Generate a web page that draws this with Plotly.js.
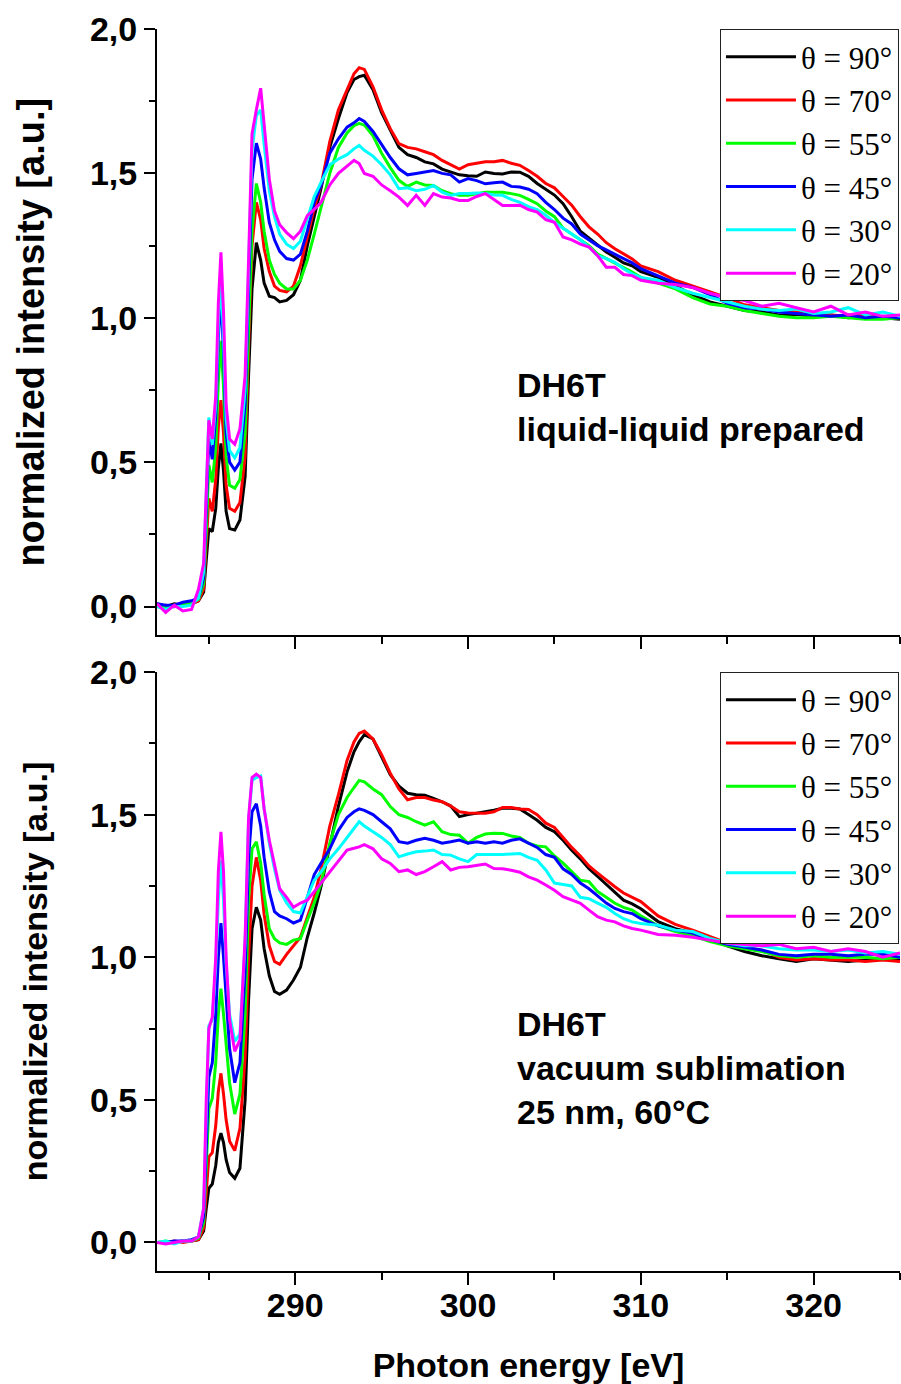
<!DOCTYPE html>
<html>
<head>
<meta charset="utf-8">
<script src="https://cdn.plot.ly/plotly-3.0.1.min.js"></script>
<style>html,body{margin:0;padding:0;background:#fff;}#chart{width:901px;height:1384px;}</style>
</head>
<body>
<div id="chart"></div>
<script>
// Photon energy grid [eV]
const energy = [
 282.0, 282.5, 283.0, 283.5, 284.0, 284.4, 284.7, 284.85, 285.0, 285.2,
 285.4, 285.55, 285.7, 285.85, 286.0, 286.2, 286.5, 286.8, 287.1, 287.3,
 287.5, 287.75, 288.0, 288.2, 288.5, 288.8, 289.1, 289.5, 289.9, 290.3,
 290.7, 291.1, 291.5, 292.0, 292.5, 293.0, 293.4, 293.7, 294.0, 294.5,
 295.0, 295.5, 296.0, 296.5, 297.0, 297.5, 298.0, 298.5, 299.0, 299.5,
 300.0, 300.5, 301.0, 301.5, 302.0, 302.5, 303.0, 303.5, 304.0, 304.5,
 305.0, 305.5, 306.0, 306.5, 307.0, 307.5, 308.0, 308.5, 309.0, 309.5,
 310.0, 311.0, 312.0, 313.0, 314.0, 315.0, 316.0, 317.0, 318.0, 319.0,
 320.0, 321.0, 322.0, 323.0, 324.0, 325.0];

const seriesNames = ['θ = 90°', 'θ = 70°', 'θ = 55°', 'θ = 45°', 'θ = 30°', 'θ = 20°'];
const seriesColors = ['#000000', '#ff0000', '#00ff00', '#0000ff', '#00ffff', '#ff00ff'];

// Top panel: DH6T liquid-liquid prepared
const top90 = [
 0.01, 0.0, 0.01, 0.005, 0.01, 0.02, 0.05, 0.15, 0.27, 0.26,
 0.34, 0.48, 0.565, 0.47, 0.33, 0.27, 0.265, 0.30, 0.45, 0.80,
 1.10, 1.26, 1.20, 1.12, 1.075, 1.07, 1.055, 1.06, 1.08, 1.13,
 1.25, 1.35, 1.45, 1.59, 1.69, 1.78, 1.825, 1.835, 1.84, 1.79,
 1.71, 1.65, 1.59, 1.565, 1.555, 1.54, 1.533, 1.515, 1.505, 1.495,
 1.492, 1.49, 1.505, 1.50, 1.498, 1.505, 1.504, 1.49, 1.465, 1.445,
 1.425, 1.395, 1.35, 1.30, 1.275, 1.25, 1.228, 1.21, 1.19, 1.18,
 1.16, 1.14, 1.11, 1.08, 1.055, 1.04, 1.025, 1.02, 1.01, 1.012,
 1.005, 1.01, 1.0, 1.005, 1.0, 0.995];
const top70 = [
 0.0, 0.005, 0.0, 0.01, 0.01, 0.02, 0.06, 0.20, 0.375, 0.33,
 0.44, 0.62, 0.715, 0.60, 0.42, 0.34, 0.33, 0.36, 0.52, 0.90,
 1.25, 1.40, 1.34, 1.24, 1.16, 1.11, 1.095, 1.09, 1.11, 1.18,
 1.28, 1.38, 1.46, 1.61, 1.72, 1.79, 1.845, 1.866, 1.86, 1.80,
 1.72, 1.655, 1.603, 1.59, 1.585, 1.575, 1.565, 1.545, 1.53, 1.515,
 1.53, 1.535, 1.54, 1.54, 1.545, 1.535, 1.528, 1.51, 1.49, 1.465,
 1.45, 1.42, 1.39, 1.35, 1.315, 1.29, 1.26, 1.239, 1.22, 1.204,
 1.18, 1.16, 1.13, 1.11, 1.09, 1.07, 1.045, 1.035, 1.025, 1.02,
 1.01, 1.01, 1.005, 1.01, 1.0, 1.0];
const top55 = [
 0.0, 0.0, 0.005, 0.01, 0.015, 0.025, 0.08, 0.26, 0.49, 0.43,
 0.55, 0.78, 0.92, 0.76, 0.52, 0.42, 0.41, 0.44, 0.60, 0.95,
 1.30, 1.465, 1.40, 1.30, 1.20, 1.15, 1.12, 1.10, 1.10, 1.13,
 1.20, 1.29, 1.38, 1.50, 1.59, 1.64, 1.665, 1.673, 1.667, 1.63,
 1.57, 1.52, 1.476, 1.455, 1.47, 1.46, 1.458, 1.44, 1.43, 1.424,
 1.424, 1.43, 1.435, 1.435, 1.435, 1.43, 1.424, 1.41, 1.395, 1.37,
 1.35, 1.31, 1.29, 1.27, 1.25, 1.221, 1.205, 1.19, 1.175, 1.158,
 1.14, 1.12, 1.10, 1.07, 1.048, 1.04, 1.025, 1.015, 1.005, 1.0,
 1.0, 1.005, 1.0, 0.995, 0.995, 1.0];
const top45 = [
 0.01, 0.005, 0.005, 0.015, 0.02, 0.03, 0.10, 0.32, 0.58, 0.51,
 0.66, 0.93, 1.08, 0.88, 0.60, 0.50, 0.473, 0.50, 0.70, 1.10,
 1.48, 1.605, 1.55, 1.45, 1.33, 1.27, 1.23, 1.205, 1.20, 1.22,
 1.30, 1.40, 1.46, 1.57, 1.62, 1.66, 1.675, 1.69, 1.68, 1.645,
 1.60, 1.555, 1.516, 1.495, 1.50, 1.505, 1.51, 1.50, 1.495, 1.47,
 1.482, 1.475, 1.464, 1.468, 1.47, 1.455, 1.453, 1.445, 1.43, 1.40,
 1.375, 1.345, 1.325, 1.29, 1.27, 1.25, 1.235, 1.221, 1.205, 1.19,
 1.17, 1.145, 1.12, 1.105, 1.08, 1.05, 1.035, 1.03, 1.02, 1.015,
 1.01, 1.005, 1.01, 1.0, 1.005, 1.0];
const top30 = [
 0.0, -0.01, 0.0, 0.0, 0.005, 0.03, 0.12, 0.40, 0.655, 0.56,
 0.70, 0.98, 1.14, 0.93, 0.65, 0.54, 0.515, 0.55, 0.75, 1.17,
 1.58, 1.70, 1.72, 1.60, 1.44, 1.35, 1.29, 1.255, 1.24, 1.265,
 1.34, 1.42, 1.47, 1.53, 1.55, 1.565, 1.585, 1.597, 1.58, 1.56,
 1.53, 1.495, 1.447, 1.45, 1.44, 1.445, 1.458, 1.435, 1.424, 1.43,
 1.43, 1.432, 1.43, 1.425, 1.424, 1.41, 1.40, 1.385, 1.375, 1.355,
 1.33, 1.31, 1.29, 1.27, 1.245, 1.215, 1.205, 1.192, 1.17, 1.152,
 1.14, 1.13, 1.105, 1.085, 1.07, 1.055, 1.04, 1.03, 1.025, 1.03,
 1.015, 1.02, 1.035, 1.01, 1.02, 1.005];
const top20 = [
 0.01, -0.02, 0.005, -0.015, -0.01, 0.06, 0.15, 0.40, 0.645, 0.58,
 0.73, 1.05, 1.227, 1.02, 0.70, 0.58, 0.562, 0.615, 0.80, 1.20,
 1.637, 1.72, 1.795, 1.67, 1.48, 1.37, 1.322, 1.295, 1.274, 1.30,
 1.354, 1.375, 1.40, 1.46, 1.50, 1.525, 1.545, 1.534, 1.50, 1.49,
 1.46, 1.44, 1.418, 1.389, 1.424, 1.389, 1.43, 1.418, 1.415, 1.406,
 1.406, 1.42, 1.43, 1.41, 1.389, 1.389, 1.39, 1.375, 1.366, 1.34,
 1.331, 1.28, 1.27, 1.255, 1.245, 1.215, 1.175, 1.175, 1.15, 1.146,
 1.13, 1.12, 1.115, 1.105, 1.085, 1.07, 1.06, 1.04, 1.05, 1.035,
 1.02, 1.04, 1.01, 1.02, 1.005, 1.01];

// Bottom panel: DH6T vacuum sublimation 25 nm, 60 °C
const bot90 = [
 0.0, 0.0, 0.0, 0.005, 0.005, 0.01, 0.04, 0.12, 0.19, 0.205,
 0.27, 0.35, 0.383, 0.35, 0.29, 0.245, 0.225, 0.26, 0.50, 0.85,
 1.10, 1.175, 1.13, 1.03, 0.935, 0.88, 0.87, 0.885, 0.92, 0.965,
 1.07, 1.155, 1.25, 1.39, 1.53, 1.65, 1.72, 1.755, 1.78, 1.765,
 1.70, 1.64, 1.60, 1.575, 1.57, 1.568, 1.557, 1.545, 1.53, 1.493,
 1.50, 1.504, 1.51, 1.515, 1.522, 1.522, 1.52, 1.50, 1.48, 1.455,
 1.44, 1.41, 1.375, 1.345, 1.31, 1.283, 1.255, 1.228, 1.20, 1.187,
 1.17, 1.125, 1.10, 1.085, 1.062, 1.04, 1.02, 1.005, 0.995, 0.985,
 0.995, 0.99, 0.985, 0.99, 0.995, 0.99];
const bot70 = [
 0.0, 0.0, 0.005, 0.0, 0.005, 0.01, 0.05, 0.17, 0.30, 0.315,
 0.41, 0.53, 0.593, 0.52, 0.43, 0.355, 0.322, 0.40, 0.65, 1.00,
 1.25, 1.35, 1.27, 1.15, 1.04, 0.985, 0.975, 1.01, 1.04, 1.07,
 1.14, 1.21, 1.31, 1.46, 1.57, 1.69, 1.755, 1.785, 1.793, 1.765,
 1.71, 1.645, 1.59, 1.552, 1.56, 1.56, 1.551, 1.545, 1.53, 1.51,
 1.506, 1.505, 1.505, 1.51, 1.525, 1.525, 1.52, 1.518, 1.50, 1.47,
 1.455, 1.42, 1.385, 1.355, 1.32, 1.295, 1.27, 1.247, 1.225, 1.21,
 1.195, 1.145, 1.115, 1.095, 1.072, 1.05, 1.035, 1.025, 1.0, 0.99,
 0.995, 0.99, 0.99, 0.985, 0.99, 0.985];
const bot55 = [
 0.0, 0.005, 0.0, 0.005, 0.005, 0.015, 0.07, 0.28, 0.47, 0.505,
 0.63, 0.80, 0.89, 0.80, 0.69, 0.56, 0.45, 0.52, 0.80, 1.20,
 1.38, 1.405, 1.33, 1.22, 1.10, 1.065, 1.05, 1.045, 1.06, 1.065,
 1.13, 1.19, 1.26, 1.40, 1.50, 1.56, 1.595, 1.62, 1.615, 1.59,
 1.57, 1.528, 1.50, 1.49, 1.475, 1.463, 1.475, 1.44, 1.43, 1.428,
 1.40, 1.42, 1.432, 1.435, 1.434, 1.425, 1.42, 1.40, 1.39, 1.387,
 1.355, 1.33, 1.30, 1.27, 1.265, 1.23, 1.21, 1.189, 1.175, 1.165,
 1.145, 1.11, 1.09, 1.075, 1.055, 1.04, 1.03, 1.02, 1.005, 1.0,
 1.005, 1.0, 1.0, 1.0, 0.995, 1.0];
const bot45 = [
 0.0, 0.0, 0.005, 0.005, 0.01, 0.02, 0.09, 0.35, 0.58, 0.63,
 0.80, 1.00, 1.12, 1.00, 0.85, 0.68, 0.56, 0.63, 0.95, 1.35,
 1.51, 1.538, 1.46, 1.35, 1.23, 1.16, 1.145, 1.135, 1.12, 1.13,
 1.21, 1.29, 1.33, 1.38, 1.445, 1.49, 1.51, 1.52, 1.515, 1.50,
 1.475, 1.45, 1.405, 1.40, 1.41, 1.417, 1.41, 1.40, 1.405, 1.411,
 1.40, 1.405, 1.40, 1.405, 1.40, 1.41, 1.415, 1.40, 1.385, 1.36,
 1.35, 1.31, 1.29, 1.26, 1.24, 1.215, 1.19, 1.171, 1.16, 1.153,
 1.135, 1.11, 1.095, 1.085, 1.062, 1.045, 1.035, 1.025, 1.01, 1.005,
 1.01, 1.01, 1.005, 1.01, 1.01, 1.0];
const bot30 = [
 0.0, 0.005, -0.005, 0.005, 0.005, 0.02, 0.12, 0.48, 0.76, 0.78,
 0.97, 1.20, 1.34, 1.20, 0.98, 0.80, 0.705, 0.73, 1.05, 1.48,
 1.62, 1.63, 1.635, 1.52, 1.40, 1.31, 1.235, 1.19, 1.16, 1.155,
 1.21, 1.27, 1.30, 1.345, 1.38, 1.42, 1.455, 1.475, 1.46, 1.44,
 1.42, 1.395, 1.352, 1.362, 1.37, 1.372, 1.376, 1.36, 1.358, 1.345,
 1.335, 1.36, 1.36, 1.358, 1.36, 1.362, 1.364, 1.35, 1.34, 1.306,
 1.26, 1.255, 1.25, 1.21, 1.205, 1.19, 1.175, 1.153, 1.135, 1.124,
 1.118, 1.112, 1.095, 1.09, 1.066, 1.05, 1.04, 1.04, 1.03, 1.025,
 1.025, 1.02, 1.025, 1.015, 1.02, 1.01];
const bot20 = [
 0.0, -0.005, 0.0, 0.005, 0.005, 0.02, 0.12, 0.50, 0.75, 0.79,
 1.00, 1.30, 1.44, 1.30, 1.00, 0.78, 0.67, 0.71, 1.07, 1.49,
 1.63, 1.642, 1.63, 1.52, 1.41, 1.32, 1.24, 1.21, 1.175, 1.19,
 1.20, 1.23, 1.26, 1.30, 1.335, 1.376, 1.382, 1.387, 1.395, 1.38,
 1.345, 1.329, 1.30, 1.306, 1.29, 1.30, 1.317, 1.335, 1.306, 1.315,
 1.317, 1.323, 1.327, 1.311, 1.31, 1.305, 1.298, 1.282, 1.27, 1.253,
 1.235, 1.212, 1.20, 1.189, 1.165, 1.142, 1.13, 1.124, 1.11, 1.101,
 1.095, 1.08, 1.077, 1.07, 1.06, 1.05, 1.045, 1.04, 1.045, 1.03,
 1.035, 1.02, 1.03, 1.02, 1.0, 1.015];

const topSeries = [top90, top70, top55, top45, top30, top20];
const botSeries = [bot90, bot70, bot55, bot45, bot30, bot20];

const sampleTop = ['DH6T', 'liquid-liquid prepared'];
const sampleBot = ['DH6T', 'vacuum sublimation', '25 nm, 60°C'];

const traces = [];
topSeries.forEach((ys, i) => traces.push({
  type: 'scatter', mode: 'lines', x: energy, y: ys, name: seriesNames[i],
  xaxis: 'x', yaxis: 'y', legend: 'legend',
  line: {color: seriesColors[i], width: 3}
}));
botSeries.forEach((ys, i) => traces.push({
  type: 'scatter', mode: 'lines', x: energy, y: ys, name: seriesNames[i],
  xaxis: 'x2', yaxis: 'y2', legend: 'legend2',
  line: {color: seriesColors[i], width: 3}
}));

const boldFont = {family: 'Liberation Sans, Arial, sans-serif', size: 34, color: '#000', weight: 700};
const yTitleFontTop = {family: 'Liberation Sans, Arial, sans-serif', size: 38, color: '#000', weight: 700};
const yTitleFontBot = {family: 'Liberation Sans, Arial, sans-serif', size: 34, color: '#000', weight: 700};
const xRange = [282, 325];
const yRange = [-0.1, 2.0];
const topDom = [0.5117, 1];
const botDom = [0, 0.4823];

function xBase(extra) {
  return Object.assign({
    range: xRange, autorange: false, showgrid: false, zeroline: false,
    showline: true, linecolor: '#000', linewidth: 2,
    tick0: 0, dtick: 10, ticks: 'outside', ticklen: 12, tickwidth: 2, tickcolor: '#000',
    minor: {dtick: 5, tick0: 0, ticks: 'outside', ticklen: 7, tickwidth: 2, tickcolor: '#000'},
    tickfont: boldFont, ticklabelstandoff: -9
  }, extra);
}
function yBase(extra) {
  return Object.assign({
    range: yRange, autorange: false, showgrid: false, zeroline: false,
    showline: true, linecolor: '#000', linewidth: 2,
    tick0: 0, dtick: 0.5, tickformat: '.1f', ticks: 'outside', ticklen: 11, tickwidth: 2, tickcolor: '#000',
    minor: {dtick: 0.25, tick0: 0, ticks: 'outside', ticklen: 6, tickwidth: 2, tickcolor: '#000'},
    tickfont: boldFont
  }, extra);
}
function mirrorX(overlay, anchor) {
  return {
    overlaying: overlay, anchor: anchor, side: 'top', range: xRange, autorange: false,
    showgrid: false, zeroline: false, showline: true, linecolor: '#000', linewidth: 2,
    tick0: 0, dtick: 10, ticks: 'inside', ticklen: 9, tickwidth: 2, tickcolor: '#000',
    minor: {dtick: 5, tick0: 0, ticks: 'inside', ticklen: 9, tickwidth: 2, tickcolor: '#000'},
    showticklabels: false
  };
}
function mirrorY(overlay, anchor) {
  return {
    overlaying: overlay, anchor: anchor, side: 'right', range: yRange, autorange: false,
    showgrid: false, zeroline: false, showline: true, linecolor: '#000', linewidth: 2,
    tick0: 0, dtick: 0.5, ticks: 'inside', ticklen: 9, tickwidth: 2, tickcolor: '#000',
    minor: {dtick: 0.25, tick0: 0, ticks: 'inside', ticklen: 5, tickwidth: 2, tickcolor: '#000'},
    showticklabels: false
  };
}

const legendBase = {
  xanchor: 'left', yanchor: 'top', x: 0.7577,
  bgcolor: '#ffffff', bordercolor: '#222', borderwidth: 1,
  font: {family: 'Liberation Serif, Times New Roman, serif', size: 31, color: '#000'},
  traceorder: 'normal', itemwidth: 70, itemclick: false, itemdoubleclick: false
};

const layout = {
  width: 901, height: 1384,
  margin: {l: 157, r: 1, t: 29, b: 113},
  paper_bgcolor: '#ffffff', plot_bgcolor: '#ffffff',
  separators: ',.',
  font: {family: 'Liberation Sans, Arial, sans-serif', color: '#000'},
  showlegend: true,
  xaxis: xBase({anchor: 'y', domain: [0, 1], showticklabels: false}),
  yaxis: yBase({anchor: 'x', domain: topDom,
    title: {text: 'normalized intensity [a.u.]', font: yTitleFontTop, standoff: 34}}),
  xaxis2: xBase({anchor: 'y2', domain: [0, 1],
    title: {text: 'Photon energy [eV]', font: boldFont, standoff: 31}}),
  yaxis2: yBase({anchor: 'x2', domain: botDom,
    title: {text: 'normalized intensity [a.u.]', font: yTitleFontBot, standoff: 32}}),
  xaxis3: mirrorX('x', 'y'),
  yaxis3: mirrorY('y', 'x'),
  xaxis4: mirrorX('x2', 'y2'),
  yaxis4: mirrorY('y2', 'x2'),
  legend: Object.assign({}, legendBase, {y: topDom[1]}),
  legend2: Object.assign({}, legendBase, {y: botDom[1]}),
  annotations: [
    {xref: 'paper', yref: 'paper', x: 0.4818, y: 0.696, xanchor: 'left', yanchor: 'middle',
     align: 'left', showarrow: false, text: sampleTop.join('<br>'), font: boldFont},
    {xref: 'paper', yref: 'paper', x: 0.4818, y: 0.1638, xanchor: 'left', yanchor: 'middle',
     align: 'left', showarrow: false, text: sampleBot.join('<br>'), font: boldFont}
  ]
};

Plotly.newPlot('chart', traces, layout, {staticPlot: true, displayModeBar: false});
</script>
</body>
</html>
